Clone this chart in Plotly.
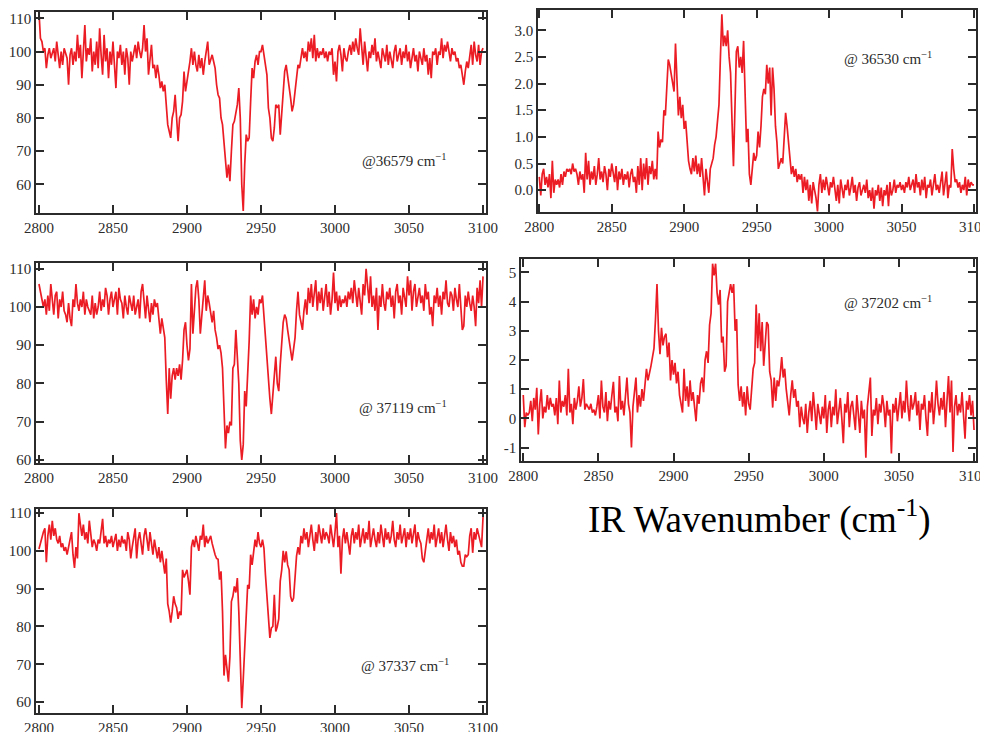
import plotly.graph_objects as go

# ---------------- data ----------------
wavenumber = list(range(2800, 3101))

spec_36579 = [
    112, 104, 103, 100, 101, 95, 99, 101, 98, 100,
    101, 97, 103, 99, 95, 100, 96, 101, 99, 98,
    90, 99, 101, 96, 100, 97, 105, 98, 102, 92,
    100, 108, 97, 101, 99, 104, 94, 100, 96, 103,
    95, 107, 99, 93, 105, 97, 101, 92, 100, 96,
    103, 95, 89, 100, 98, 102, 96, 100, 93, 101,
    98, 90, 100, 97, 99, 102, 98, 103, 100, 98,
    101, 108, 100, 104, 93, 98, 102, 95, 96, 92,
    96, 93, 89, 91, 88, 90, 84, 78, 76, 74,
    80, 82, 87, 78, 73, 80, 81, 85, 94, 88,
    92, 94, 97, 101, 96, 100, 96, 94, 99, 95,
    98, 93, 97, 100, 103, 96, 98, 99, 97, 95,
    90, 87, 86, 80, 78, 72, 68, 62, 66, 61,
    70, 78, 79, 81, 84, 89, 80, 60, 52, 66,
    75, 73, 74, 85, 95, 92, 97, 99, 96, 100,
    100, 102, 99, 95, 93, 83, 80, 74, 73, 77,
    84, 83, 84, 75, 82, 89, 94, 96, 93, 90,
    86, 82, 84, 88, 92, 96, 95, 99, 101, 98,
    100, 97, 103, 100, 104, 98, 105, 97, 101, 98,
    100, 99, 101, 98, 100, 97, 100, 99, 101, 93,
    97, 91, 100, 102, 99, 94, 101, 98, 97, 100,
    102, 99, 103, 100, 104, 101, 99, 107, 100, 96,
    103, 97, 94, 100, 98, 102, 99, 104, 97, 100,
    98, 95, 101, 99, 97, 102, 96, 100, 98, 95,
    100, 102, 97, 99, 101, 96, 100, 98, 102, 97,
    100, 95, 99, 101, 97, 99, 94, 100, 98, 96,
    101, 97, 99, 93, 98, 92, 100, 99, 101, 96,
    100, 99, 104, 98, 102, 100, 103, 99, 97, 101,
    99, 100, 97, 98, 95, 96, 92, 90, 94, 97,
    95, 98, 102, 96, 103, 99, 97, 102, 96, 100,
    101,
]

spec_36530 = [
    0.25, -0.1, 0.3, 0.4, 0.1, 0.25, 0.05, 0.3, -0.15, 0.55,
    -0.05, 0.2, 0.1, 0.2, 0.05, 0.3, 0.1, 0.35, 0.25, 0.4,
    0.35, 0.4, 0.3, 0.5, 0.35, 0.4, 0.3, 0.1, 0.35, 0.2,
    0.3, -0.05, 0.7, 0.2, 0.55, 0.1, 0.35, 0.2, 0.45, 0.1,
    0.3, 0.6, 0.2, 0.35, 0.15, 0.45, 0.3, 0.0, 0.4, 0.25,
    0.5, 0.3, 0.15, 0.45, 0.0, 0.35, 0.2, 0.4, 0.1, 0.3,
    0.2, 0.35, 0.05, 0.3, 0.4, 0.15, 0.25, -0.05, 0.45, 0.1,
    0.6, 0.0, 0.5, 0.2, 0.6, 0.1, 0.45, 0.3, 0.55, 0.2,
    0.4, 0.2, 1.1, 0.8, 0.95, 0.9, 1.5, 1.4, 2.0, 2.45,
    2.35, 2.2, 2.0, 1.85, 2.75, 1.9, 1.4, 1.75, 1.35, 1.6,
    1.15, 1.3, 0.8, 0.55, 0.4, 0.3, 0.6, 0.35, 0.65, 0.3,
    0.5, 0.25, 0.6, 0.3, -0.1, 0.4, 0.1, -0.05, 0.4, 0.5,
    0.6, 0.85, 1.0, 1.3, 1.6, 2.5, 3.3, 2.7, 2.9, 2.7,
    3.0, 2.5, 2.2, 1.3, 0.45, 1.5, 2.6, 2.7, 2.3, 2.5,
    2.2, 2.8, 1.7, 0.9, 1.15, 0.3, 0.1, 0.5, 0.7, 0.55,
    0.65, 1.1, 0.8, 1.2, 1.75, 1.9, 1.8, 2.35, 2.0, 2.3,
    1.4, 2.3, 1.9, 1.2, 0.9, 0.4, 0.5, 0.6, 0.5, 0.9,
    1.45, 1.2, 0.9, 0.5, 0.3, 0.45, 0.25, 0.4, 0.15, 0.3,
    0.2, 0.3, -0.05, 0.25, 0.0, 0.2, -0.2, 0.1, -0.25, 0.15,
    0.0, -0.15, -0.4, 0.1, 0.3, -0.05, 0.2, 0.0, 0.25, 0.1,
    -0.1, 0.15, 0.05, 0.25, 0.0, -0.2, 0.1, -0.25, 0.2, 0.05,
    -0.15, 0.1, 0.0, 0.2, -0.1, 0.05, 0.25, -0.05, 0.1, -0.2,
    0.05, 0.15, -0.1, 0.0, 0.1, -0.05, 0.2, -0.15, 0.0, -0.2,
    0.05, -0.35, 0.0, -0.1, 0.1, -0.2, 0.05, -0.3, 0.0, -0.1,
    0.1, -0.3, 0.15, -0.1, 0.0, 0.2, -0.05, 0.1, 0.05, 0.15,
    0.0, 0.1, -0.05, 0.15, 0.05, 0.25, 0.0, 0.1, 0.2, -0.05,
    0.3, 0.05, 0.15, -0.1, 0.2, 0.0, 0.25, -0.15, 0.1, 0.05,
    0.2, -0.1, 0.15, 0.3, 0.0, 0.1, -0.05, 0.2, 0.35, -0.1,
    0.1, 0.35, -0.15, 0.1, 0.05, 0.77, 0.4, 0.15, 0.2, 0.05,
    0.15, -0.05, 0.1, 0.0, 0.25, -0.1, 0.2, 0.05, 0.15, 0.1,
    0.1,
]

spec_37119 = [
    106, 104, 103, 100, 102, 98, 103, 99, 106, 101,
    98, 103, 104, 97, 102, 100, 104, 99, 98, 96,
    101, 97, 95, 102, 100, 106, 101, 99, 102, 100,
    104, 98, 102, 100, 99, 98, 103, 97, 101, 98,
    100, 104, 99, 102, 100, 105, 103, 98, 102, 104,
    100, 102, 104, 98, 105, 102, 101, 97, 103, 100,
    98, 103, 101, 99, 103, 98, 100, 102, 97, 104,
    106, 101, 97, 103, 99, 96, 101, 98, 102, 100,
    101, 96, 93, 97, 95, 92, 81, 72, 84, 76,
    82, 84, 81, 84, 82, 85, 81, 86, 94, 96,
    90, 86, 89, 106, 93, 98, 105, 107, 102, 93,
    98, 104, 107, 99, 103, 101, 98, 96, 99, 94,
    92, 89, 90, 88, 84, 72, 63, 69, 67, 70,
    69, 84, 85, 94, 88, 80, 65, 60, 64, 78,
    74, 82, 91, 103, 98, 102, 97, 100, 98, 102,
    101, 103, 97, 92, 85, 81, 76, 72, 77, 80,
    87, 80, 78, 85, 91, 96, 98, 97, 94, 91,
    88, 86, 89, 92, 99, 104, 98, 96, 94, 99,
    102, 98, 105, 101, 106, 100, 103, 107, 99, 104,
    101, 105, 99, 103, 106, 100, 104, 98, 102, 109,
    101, 104, 99, 103, 100, 102, 101, 103, 100, 104,
    102, 105, 101, 107, 103, 100, 105, 102, 98, 106,
    103, 110, 104, 101, 108, 100, 103, 99, 105, 94,
    103, 100, 106, 101, 99, 104, 102, 105, 100, 103,
    97, 104, 106, 101, 103, 98, 105, 102, 100, 108,
    103, 107, 99, 104, 106, 100, 102, 105, 101, 103,
    99, 106, 102, 104, 98, 100, 95, 103, 101, 105,
    100, 103, 98, 104, 102, 107, 101, 100, 104, 103,
    99, 105, 102, 100, 106, 101, 94, 95, 103, 100,
    104, 101, 99, 103, 100, 95, 105, 101, 107, 100,
    108,
]

spec_37202 = [
    0.8, -0.3, 0.2, 0.1, 0.2, 0.6, -0.1, 0.7, 0.3, 1.05,
    -0.55, 0.5, 1.0, 0.0, 0.4, 0.2, 0.8, 0.3, 0.7, 0.4,
    0.5, 0.1, 0.7, -0.2, 1.3, 0.2, 0.6, 0.4, 0.8, 0.1,
    1.7, 0.2, 0.5, -0.2, 0.7, 0.3, 0.6, 1.1, 0.4, 0.7,
    1.35, 0.3, 0.5, 0.4, 0.3, 0.5, 0.2, 0.3, 0.1, 0.4,
    0.8, 0.0, 1.3, 0.4, 0.2, 0.9, -0.1, 0.6, 0.3, 0.8,
    1.25, 0.2, 0.4, -0.1, 1.45, 0.3, 0.6, 0.1, 0.7, 1.4,
    0.5, 0.2, -1.0, 0.4, 0.9, 1.4, 0.2, 0.8, 0.4, 1.0,
    0.6, 1.2, 1.7, 1.3, 1.5, 1.8, 2.1, 2.4, 3.4, 4.6,
    3.0, 2.2, 3.1, 2.5, 2.8, 2.9, 2.1, 2.6, 1.3, 2.0,
    1.5, 1.9, 1.2, 1.6, 0.8, 0.5, 0.2, 1.7, 0.6, 1.1,
    0.4, 1.3, 0.6, 0.9, 0.3, -0.1, 0.8, 0.5, 1.2, 1.4,
    0.9, 2.0, 2.3, 1.9, 3.2, 3.6, 5.3, 4.9, 5.3, 4.3,
    3.9, 4.4, 2.6, 2.8, 1.6, 1.8, 4.0, 4.4, 4.6, 4.3,
    4.6, 3.0, 3.4, 1.15, 0.6, 1.1, 0.4, 0.9, 0.1, 1.1,
    0.5, 0.3, 1.2, 1.7, 1.9, 3.9, 2.4, 3.6, 2.3, 3.3,
    1.8, 2.7, 3.3, 3.2, 1.6, 1.3, 0.37, 1.4, 0.6, 1.3,
    1.1, 1.5, 2.1, 1.4, 1.7, 1.0, 0.6, 0.1, 0.8, 1.3,
    0.7, 1.0, 0.4, 0.6, -0.3, 0.4, 0.0, -0.2, 0.5, -0.5,
    0.2, 0.6, -0.1, 0.9, 0.3, -0.4, 0.5, 0.1, -0.2, 0.4,
    0.0, 0.8, -0.5, 0.3, 0.6, -0.3, 0.4, 0.1, 1.0, -0.2,
    0.3, 0.7, 0.0, -0.85, 0.5, 0.2, 0.9, -0.3, 0.4, 0.6,
    0.1, -0.4, 0.8, 0.2, -0.5, 0.6, 0.0, 0.3, -1.35, 0.4,
    0.9, 1.4, -0.6, 0.3, 0.1, 0.7, -0.2, 0.5, 0.2, 0.8,
    0.4, -0.3, 0.6, 0.1, 0.3, -1.2, 0.5, 0.2, 0.7, -0.1,
    0.4, 0.9, 0.0, 0.6, 0.2, 1.3, 0.4, -0.1, 0.8, 0.3,
    0.5, 0.9, 0.1, 0.6, -0.4, 0.5, 0.3, 0.8, 0.0, -0.6,
    0.6, 0.2, 0.9, -0.2, 0.4, 1.3, 0.5, 0.1, 0.7, 0.3,
    0.9, -0.3, 0.6, 1.45, 0.2, 1.3, -1.15, 0.4, 0.8, 0.1,
    0.5, 0.2, 0.9, -0.1, -0.7, 0.6, 0.3, 0.8, 0.1, 0.6,
    -0.4,
]

spec_37337 = [
    100.5, 102, 104, 105, 106, 97, 104, 107, 103, 108,
    104, 106, 103, 102, 104, 101, 102, 100, 101, 99,
    101, 103, 105, 99, 95.5, 101, 98, 110, 106, 104,
    107, 103, 105, 102, 108, 104, 101, 103, 102, 100,
    103, 102, 105, 108.5, 102, 104, 101, 103, 102, 104,
    101, 103, 104.5, 100, 103, 101, 104, 102, 103, 100,
    105, 103, 98, 101, 104, 106, 98, 103, 105, 101,
    99, 104, 106, 103, 100, 105, 102, 99, 103, 101,
    98, 101, 97, 100, 96, 94, 98, 86, 84, 81,
    84, 88, 86, 85, 82, 84, 83, 95, 93, 94,
    95, 92, 88.4, 101, 103, 101, 104, 102, 100, 104,
    103, 107, 101, 104, 102, 103, 104, 102, 100, 99,
    98, 97.8, 92.4, 94.6, 84, 67, 72.5, 68, 65.4, 72,
    86.6, 88, 90.6, 89, 92.8, 84, 67, 58.4, 66, 74,
    79.6, 91, 90, 99, 96.3, 100, 103, 101, 105, 102,
    101, 103, 100.7, 93.7, 88, 85, 77, 79.6, 80, 88.4,
    78.7, 80, 82, 92, 95, 100, 97, 99.9, 96.3, 95,
    88, 86.6, 87.5, 93, 98.6, 101, 99, 104, 102, 106,
    103, 105, 101, 104, 107, 103, 100, 105, 102, 107,
    104, 102, 106, 103, 105, 104, 102, 107, 104, 101,
    105, 110, 101, 104, 94, 103, 106, 102, 105, 101,
    99, 104, 106, 102, 105, 103, 107, 101, 104, 106,
    102, 105, 103, 108, 101, 104, 106, 103, 101, 105,
    102, 107, 104, 101, 106, 103, 105, 102, 104, 108,
    103, 101, 105, 103, 107, 102, 104, 106, 101, 105,
    103, 106, 102, 104, 107, 101, 105, 103, 102, 98,
    97, 100, 104, 106, 102, 105, 103, 107, 101, 104,
    106, 102, 105, 101, 104, 107, 103, 100, 105, 102,
    104, 101, 103, 99, 100, 97, 96, 96, 99, 98.5,
    99, 104, 106, 99.5, 105, 103, 106, 104, 102, 101,
    109,
]

x_ticks = [2800, 2850, 2900, 2950, 3000, 3050, 3100]
pct_ticks = [60, 70, 80, 90, 100, 110]
ticks_36530 = [0.0, 0.5, 1.0, 1.5, 2.0, 2.5, 3.0]
ticks_36530_text = ["0.0", "0.5", "1.0", "1.5", "2.0", "2.5", "3.0"]
ticks_37202 = [-1, 0, 1, 2, 3, 4, 5]
ticks_37202_text = ["-1", "0", "1", "2", "3", "4", "5"]

labels = ["@36579 cm<sup>\u22121</sup>", "@ 36530 cm<sup>\u22121</sup>",
          "@ 37119 cm<sup>\u22121</sup>", "@ 37202 cm<sup>\u22121</sup>",
          "@ 37337 cm<sup>\u22121</sup>"]

# ---------------- figure ----------------
# the page body has an 8px margin, so the figure canvas starts at (8, 8)
OFF = 8
W, H = 988 - OFF, 732 - OFF
RED = "#ec1c24"
AX = "#2b2b2b"
FONT = "Liberation Serif"

series = [spec_36579, spec_36530, spec_37119, spec_37202, spec_37337]

# panel boxes in screen pixels: (left, right, top, bottom)
boxes = [(36, 486, 12, 213), (538, 976, 10, 212), (36, 486, 263, 463),
         (521, 976, 259, 461), (36, 486, 509, 713)]
xranges = [[2798, 3102], [2799.1, 3101.4], [2798, 3102], [2798.5, 3101.3], [2798, 3102]]
yranges = [[51.4, 111.9], [-0.41, 3.38], [59.2, 111.5], [-1.46, 5.46], [57.1, 111.1]]
label_pos = [(360, 160), (842, 58), (357, 407), (842, 302), (359, 665)]


def px(x):
    return (x - OFF) / W


def py(y):
    return 1 - (y - OFF) / H


fig = go.Figure()
layout = dict(
    width=W, height=H, margin=dict(l=0, r=0, t=0, b=0, autoexpand=False),
    paper_bgcolor="white", plot_bgcolor="white", showlegend=False,
    font=dict(family=FONT, color=AX, size=15),
)
annotations = []
for i, (ys, box) in enumerate(zip(series, boxes)):
    n = i + 1
    xa = "x" if n == 1 else f"x{n}"
    ya = "y" if n == 1 else f"y{n}"
    fig.add_trace(go.Scatter(x=wavenumber, y=ys, mode="lines",
                             line=dict(color=RED, width=1.7),
                             xaxis=xa, yaxis=ya, hoverinfo="skip"))
    l, r, t, b = box
    common = dict(showline=True, linecolor=AX, linewidth=1.5, mirror="allticks",
                  ticks="inside", ticklen=8, tickwidth=1.5, tickcolor=AX,
                  showgrid=False, zeroline=False, automargin=False,
                  ticklabeloverflow="allow",
                  tickfont=dict(family=FONT, size=15, color=AX))
    xkey = "xaxis" if n == 1 else f"xaxis{n}"
    ykey = "yaxis" if n == 1 else f"yaxis{n}"
    layout[xkey] = dict(domain=[px(l), px(r)], anchor=ya, range=xranges[i],
                        tickvals=x_ticks, ticklabelstandoff=0, **common)
    if n == 2:
        yt = dict(tickvals=ticks_36530, ticktext=ticks_36530_text)
    elif n == 4:
        yt = dict(tickvals=ticks_37202, ticktext=ticks_37202_text)
    else:
        yt = dict(tickvals=pct_ticks)
    layout[ykey] = dict(domain=[py(b), py(t)], anchor=xa, range=yranges[i],
                        **yt, **common)
    lx, ly = label_pos[i]
    annotations.append(dict(text=labels[i], x=px(lx), y=py(ly), xref="paper", yref="paper",
                            xanchor="left", yanchor="middle", showarrow=False,
                            font=dict(family=FONT, size=15, color=AX)))

annotations.append(dict(text="IR Wavenumber (cm<sup>-1</sup>)", x=px(759), y=py(517),
                        xref="paper", yref="paper", xanchor="center", yanchor="middle",
                        showarrow=False, font=dict(family=FONT, size=37, color="black")))
layout["annotations"] = annotations
fig.update_layout(**layout)
fig.write_html("out.html")
